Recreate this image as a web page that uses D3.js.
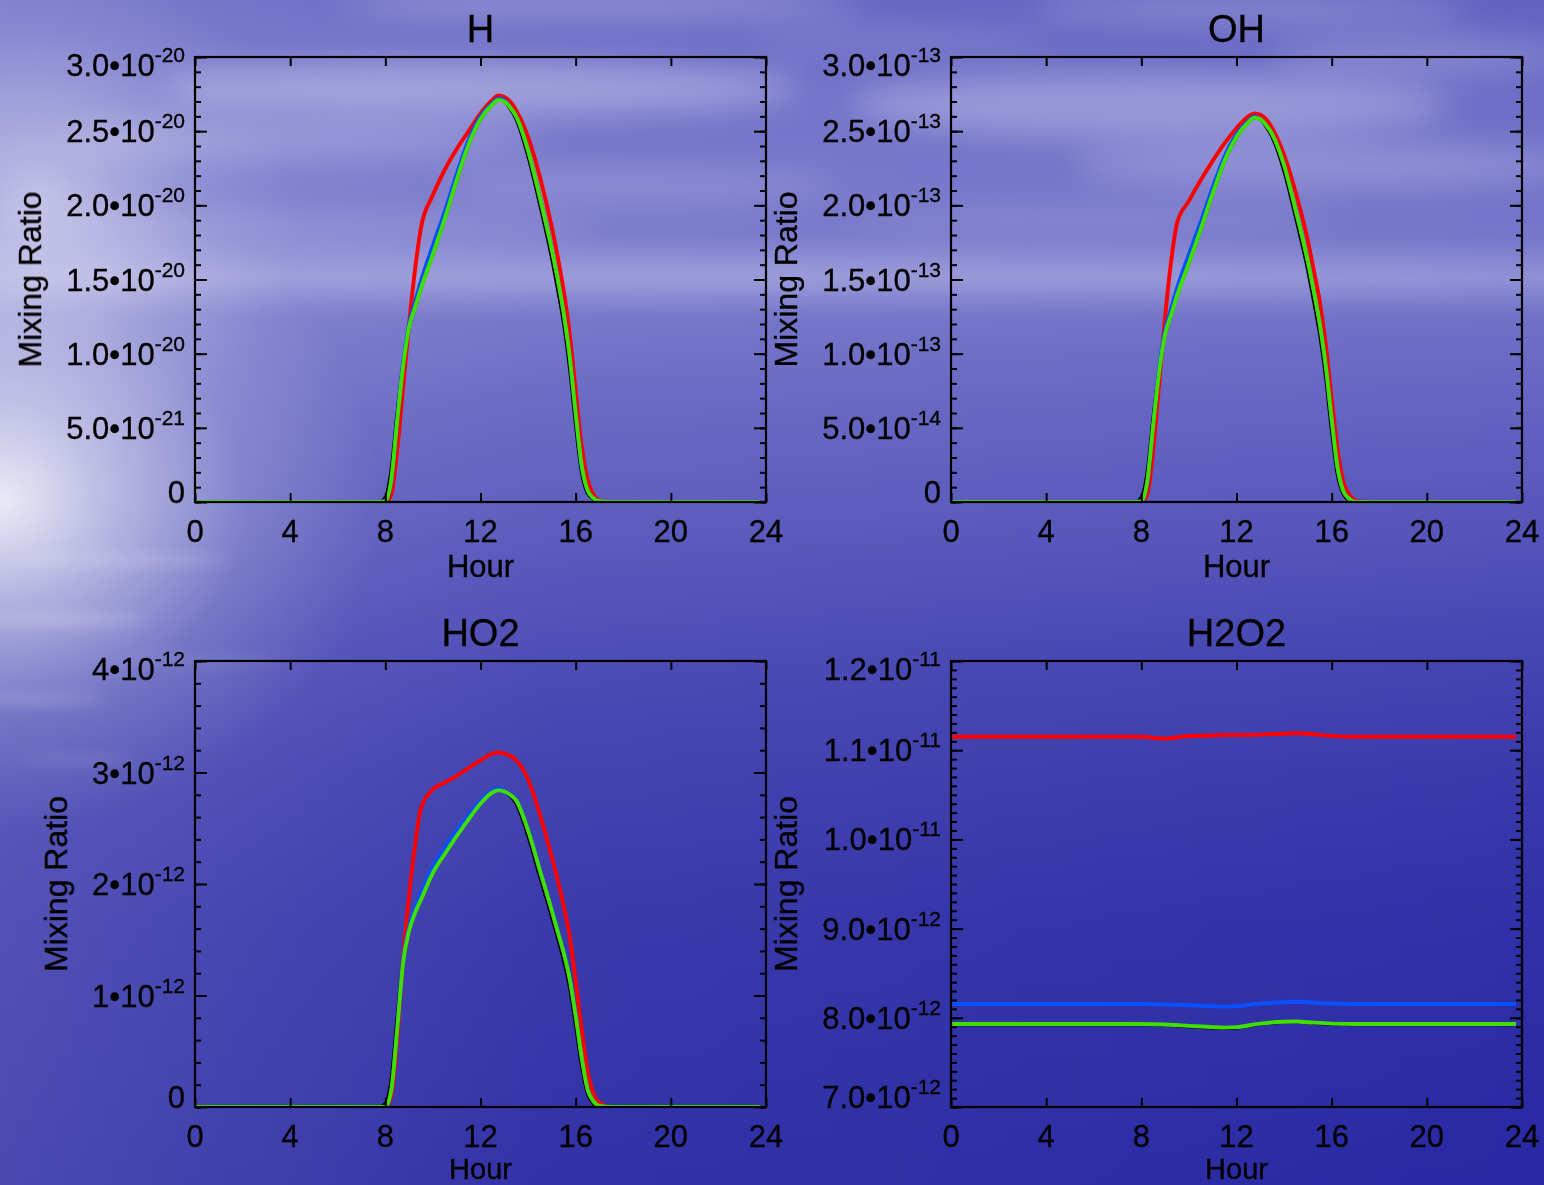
<!DOCTYPE html>
<html><head><meta charset="utf-8">
<script src="https://cdn.jsdelivr.net/npm/d3@7"></script>
<style>body{margin:0;background:#4a4ab6;} svg{display:block}</style>
</head><body>
<svg id="c" width="1544" height="1185"></svg>
<script>
// ---------- DATA ----------
const xTicks = [0, 4, 8, 12, 16, 20, 24];
const xTickLabels = ["0", "4", "8", "12", "16", "20", "24"];

// hour grid for H, OH, HO2
const hours = [0, 7.75, 8.0, 8.25, 8.5, 8.75, 9.0, 9.25, 9.5, 10.0, 10.5, 11.0, 11.5, 12.0, 12.5, 12.75, 13.0, 13.25, 13.5, 14.0, 14.5, 15.0, 15.25, 15.5, 15.75, 16.0, 16.25, 16.5, 16.75, 17.0, 17.5, 23.75];

// H (units of 1e-20)
const H_red   = [0, 0, 0, 0.05, 0.35, 0.78, 1.20, 1.57, 1.85, 2.07, 2.24, 2.38, 2.50, 2.62, 2.71, 2.74, 2.73, 2.70, 2.64, 2.46, 2.19, 1.85, 1.65, 1.42, 1.13, 0.75, 0.38, 0.15, 0.05, 0.01, 0, 0];
const H_blue  = [0, 0, 0.005, 0.14, 0.55, 0.94, 1.20, 1.35, 1.49, 1.73, 1.96, 2.21, 2.44, 2.60, 2.69, 2.72, 2.71, 2.66, 2.60, 2.37, 2.05, 1.70, 1.50, 1.27, 0.98, 0.60, 0.25, 0.08, 0.025, 0.005, 0, 0];
const H_black = [0, 0, 0.03, 0.22, 0.60, 0.93, 1.18, 1.31, 1.44, 1.67, 1.91, 2.17, 2.41, 2.58, 2.68, 2.71, 2.70, 2.65, 2.58, 2.33, 2.00, 1.64, 1.43, 1.20, 0.90, 0.52, 0.20, 0.06, 0.02, 0, 0, 0];
const H_green = [0, 0, 0.005, 0.15, 0.55, 0.92, 1.18, 1.31, 1.44, 1.67, 1.91, 2.17, 2.41, 2.58, 2.68, 2.71, 2.70, 2.66, 2.60, 2.37, 2.05, 1.70, 1.50, 1.27, 0.98, 0.60, 0.25, 0.08, 0.025, 0.005, 0, 0];

// OH (units of 1e-13)
const OH_red   = [0, 0, 0, 0.05, 0.35, 0.80, 1.25, 1.62, 1.88, 2.03, 2.17, 2.30, 2.42, 2.52, 2.60, 2.62, 2.61, 2.58, 2.52, 2.34, 2.08, 1.76, 1.56, 1.35, 1.06, 0.70, 0.35, 0.13, 0.05, 0.01, 0, 0];
const OH_blue  = [0, 0, 0.005, 0.13, 0.52, 0.90, 1.16, 1.30, 1.44, 1.67, 1.89, 2.12, 2.33, 2.48, 2.57, 2.60, 2.58, 2.54, 2.48, 2.27, 1.96, 1.62, 1.42, 1.20, 0.92, 0.56, 0.23, 0.07, 0.02, 0, 0, 0];
const OH_black = [0, 0, 0.03, 0.20, 0.57, 0.89, 1.13, 1.26, 1.39, 1.61, 1.84, 2.08, 2.30, 2.46, 2.56, 2.59, 2.58, 2.53, 2.46, 2.23, 1.91, 1.56, 1.35, 1.13, 0.84, 0.48, 0.18, 0.05, 0.01, 0, 0, 0];
const OH_green = [0, 0, 0.005, 0.14, 0.52, 0.88, 1.13, 1.26, 1.39, 1.61, 1.84, 2.08, 2.30, 2.46, 2.56, 2.59, 2.58, 2.54, 2.48, 2.27, 1.96, 1.62, 1.42, 1.20, 0.92, 0.56, 0.23, 0.07, 0.02, 0, 0, 0];

// HO2 (units of 1e-12)
const HO2_red   = [0, 0, 0, 0.10, 0.60, 1.35, 1.90, 2.35, 2.68, 2.85, 2.91, 2.97, 3.04, 3.11, 3.17, 3.18, 3.17, 3.15, 3.11, 2.94, 2.62, 2.24, 2.03, 1.80, 1.53, 1.13, 0.70, 0.32, 0.12, 0.04, 0, 0];
const HO2_blue  = [0, 0, 0, 0.15, 0.70, 1.32, 1.62, 1.79, 1.92, 2.16, 2.33, 2.48, 2.62, 2.75, 2.84, 2.86, 2.84, 2.80, 2.75, 2.48, 2.12, 1.76, 1.57, 1.38, 1.15, 0.82, 0.45, 0.16, 0.05, 0.01, 0, 0];
const HO2_black = [0, 0, 0.03, 0.25, 0.80, 1.32, 1.58, 1.74, 1.86, 2.10, 2.27, 2.43, 2.58, 2.72, 2.82, 2.84, 2.83, 2.79, 2.72, 2.43, 2.06, 1.70, 1.51, 1.31, 1.07, 0.73, 0.37, 0.12, 0.03, 0, 0, 0];
const HO2_green = [0, 0, 0, 0.15, 0.70, 1.30, 1.58, 1.74, 1.86, 2.10, 2.27, 2.43, 2.58, 2.72, 2.82, 2.84, 2.83, 2.80, 2.75, 2.48, 2.12, 1.76, 1.57, 1.38, 1.15, 0.82, 0.45, 0.16, 0.05, 0.01, 0, 0];

// H2O2 (units of 1e-12)
const hours2 = [0, 4, 8, 9, 10, 11, 11.5, 12, 13, 14, 14.5, 15, 16, 17, 20, 23.75];
const H2O2_red   = [11.15, 11.15, 11.15, 11.13, 11.16, 11.165, 11.17, 11.17, 11.175, 11.185, 11.19, 11.185, 11.16, 11.15, 11.15, 11.15];
const H2O2_blue  = [8.155, 8.155, 8.155, 8.15, 8.14, 8.13, 8.125, 8.13, 8.16, 8.175, 8.18, 8.175, 8.16, 8.155, 8.155, 8.155];
const H2O2_black = [7.925, 7.925, 7.925, 7.918, 7.902, 7.886, 7.882, 7.888, 7.93, 7.952, 7.955, 7.946, 7.93, 7.925, 7.925, 7.925];
const H2O2_green = [7.93, 7.93, 7.93, 7.925, 7.91, 7.895, 7.89, 7.895, 7.935, 7.955, 7.958, 7.95, 7.935, 7.93, 7.93, 7.93];

// y tick values and labels ([mantissa, exponent])
const H_yTicks = [0, 0.5, 1.0, 1.5, 2.0, 2.5, 3.0];
const H_yLabels = [["0",""],["5.0•10","-21"],["1.0•10","-20"],["1.5•10","-20"],["2.0•10","-20"],["2.5•10","-20"],["3.0•10","-20"]];
const OH_yTicks = [0, 0.5, 1.0, 1.5, 2.0, 2.5, 3.0];
const OH_yLabels = [["0",""],["5.0•10","-14"],["1.0•10","-13"],["1.5•10","-13"],["2.0•10","-13"],["2.5•10","-13"],["3.0•10","-13"]];
const HO2_yTicks = [0, 1, 2, 3, 4];
const HO2_yLabels = [["0",""],["1•10","-12"],["2•10","-12"],["3•10","-12"],["4•10","-12"]];
const H2O2_yTicks = [7, 8, 9, 10, 11, 12];
const H2O2_yLabels = [["7.0•10","-12"],["8.0•10","-12"],["9.0•10","-12"],["1.0•10","-11"],["1.1•10","-11"],["1.2•10","-11"]];

const titles = ["H", "OH", "HO2", "H2O2"];
const seriesColors = {red: "#ff0000", black: "#000000", blue: "#0a50ff", green: "#3fe000"};

// ---------- BACKGROUND ----------
const svg = d3.select("#c");
const W = 1544, Hh = 1185;
const defs = svg.append("defs");
const bg = defs.append("linearGradient").attr("id","bg").attr("x1",0).attr("y1",0).attr("x2",0).attr("y2",1);
[[0,"#6262c2"],[0.08,"#6e6ec8"],[0.2,"#7676cb"],[0.235,"#8686d2"],[0.27,"#7070c8"],[0.35,"#6262c1"],[0.45,"#5454ba"],[0.55,"#4545b3"],[0.65,"#3a3aad"],[0.78,"#3030a8"],[1,"#2828a3"]]
  .forEach(([o,c]) => bg.append("stop").attr("offset",o).attr("stop-color",c));
const hz = defs.append("linearGradient").attr("id","hz").attr("x1",0).attr("y1",0).attr("x2",1).attr("y2",0);
[[0,0.16],[0.35,0.05],[1,0]].forEach(([o,a]) => hz.append("stop").attr("offset",o).attr("stop-color","#ffffff").attr("stop-opacity",a));
const glow = defs.append("radialGradient").attr("id","glow");
[[0,0.85],[0.3,0.5],[0.65,0.15],[1,0]].forEach(([o,a]) => glow.append("stop").attr("offset",o).attr("stop-color","#ffffff").attr("stop-opacity",a));
defs.append("filter").attr("id","blur").attr("x","-50%").attr("y","-50%").attr("width","200%").attr("height","200%")
  .append("feGaussianBlur").attr("stdDeviation",16);
defs.append("filter").attr("id","blur2").attr("x","-50%").attr("y","-50%").attr("width","200%").attr("height","200%")
  .append("feGaussianBlur").attr("stdDeviation",7);

svg.append("rect").attr("width",W).attr("height",Hh).attr("fill","url(#bg)");
svg.append("rect").attr("width",W).attr("height",Hh).attr("fill","url(#hz)");
svg.append("ellipse").attr("cx",0).attr("cy",500).attr("rx",380).attr("ry",330).attr("fill","url(#glow)");
svg.append("ellipse").attr("cx",40).attr("cy",200).attr("rx",260).attr("ry",260).attr("fill","url(#glow)").attr("opacity",0.55);

const clouds = [
  [480, 88, 320, 26, 0.32], [300, 140, 240, 18, 0.22], [640, 185, 200, 14, 0.18],
  [1150, 105, 300, 32, 0.28], [1320, 165, 250, 22, 0.22], [1420, 55, 150, 18, 0.2],
  [600, 4, 260, 14, 0.28], [1250, 8, 220, 16, 0.22], [900, 40, 150, 12, 0.12],
  [780, 275, 900, 14, 0.22], [300, 230, 300, 14, 0.15], [1100, 220, 250, 12, 0.12]
];
svg.append("g").attr("filter","url(#blur)").selectAll("ellipse").data(clouds).join("ellipse")
  .attr("cx",d=>d[0]).attr("cy",d=>d[1]).attr("rx",d=>d[2]).attr("ry",d=>d[3])
  .attr("fill","#ffffff").attr("opacity",d=>d[4]);
const ripples = [[60,620,90,5,0.25],[40,700,70,4,0.22],[120,560,110,5,0.2],[80,760,60,4,0.15],[200,660,90,4,0.12]];
svg.append("g").attr("filter","url(#blur2)").selectAll("ellipse").data(ripples).join("ellipse")
  .attr("cx",d=>d[0]).attr("cy",d=>d[1]).attr("rx",d=>d[2]).attr("ry",d=>d[3])
  .attr("fill","#ffffff").attr("opacity",d=>d[4]);

// ---------- PANELS ----------
const FONT = "'Liberation Sans', Arial, Helvetica, sans-serif";
const panels = [
  {title: titles[0], left:195, right:766, top:57, bottom:502, yDomain:[0,3], yTicks:H_yTicks, yLabels:H_yLabels, minor:0.1,
   t:hours, series:{red:H_red, black:H_black, blue:H_blue, green:H_green}, ytx:41, hourY:577},
  {title: titles[1], left:951, right:1522, top:57, bottom:502, yDomain:[0,3], yTicks:OH_yTicks, yLabels:OH_yLabels, minor:0.1,
   t:hours, series:{red:OH_red, black:OH_black, blue:OH_blue, green:OH_green}, ytx:797, hourY:577},
  {title: titles[2], left:195, right:766, top:661, bottom:1107, yDomain:[0,4], yTicks:HO2_yTicks, yLabels:HO2_yLabels, minor:0.2,
   t:hours, series:{red:HO2_red, black:HO2_black, blue:HO2_blue, green:HO2_green}, ytx:67, hourY:1178.5},
  {title: titles[3], left:951, right:1522, top:661, bottom:1107, yDomain:[7,12], yTicks:H2O2_yTicks, yLabels:H2O2_yLabels, minor:0.1,
   t:hours2, series:{red:H2O2_red, black:H2O2_black, blue:H2O2_blue, green:H2O2_green}, ytx:797, hourY:1178.5}
];

function txt(sel){
  return sel.attr("font-family",FONT).attr("fill","#000").attr("stroke","#000").attr("stroke-width",0.35);
}

panels.forEach((p, idx) => {
  const g = svg.append("g");
  const x = d3.scaleLinear().domain([0,24]).range([p.left,p.right]);
  const y = d3.scaleLinear().domain(p.yDomain).range([p.bottom,p.top]);
  const cid = "clip"+idx;
  defs.append("clipPath").attr("id",cid).append("rect")
    .attr("x",p.left).attr("y",p.top-3).attr("width",p.right-p.left).attr("height",p.bottom-p.top+4);

  const line = d3.line().x((d,i)=>x(p.t[i])).y(d=>y(d)).curve(d3.curveMonotoneX);
  const lg = g.append("g").attr("clip-path",`url(#${cid})`);
  ["red","black","blue","green"].forEach(k => {
    lg.append("path").attr("d", line(p.series[k])).attr("fill","none")
      .attr("stroke", seriesColors[k]).attr("stroke-width", k==="black"?3.4:3.9)
      .attr("stroke-linejoin","round");
  });

  const minorTicks = d3.range(p.yDomain[0], p.yDomain[1]+1e-9, p.minor).map(v=>+v.toFixed(6));
  const ax = (a, tr) => g.append("g").attr("transform",tr).call(a)
      .call(s=>s.select(".domain").remove())
      .call(s=>s.selectAll("line").attr("stroke","#000").attr("stroke-width",2))
      .call(s=>s.selectAll("text").remove());
  ax(d3.axisBottom(x).tickValues(xTicks).tickSize(-9), `translate(0,${p.bottom})`);
  ax(d3.axisTop(x).tickValues(xTicks).tickSize(-9), `translate(0,${p.top})`);
  ax(d3.axisLeft(y).tickValues(minorTicks).tickSize(-6), `translate(${p.left},0)`);
  ax(d3.axisRight(y).tickValues(minorTicks).tickSize(-6), `translate(${p.right},0)`);
  ax(d3.axisLeft(y).tickValues(p.yTicks).tickSize(-12), `translate(${p.left},0)`);
  ax(d3.axisRight(y).tickValues(p.yTicks).tickSize(-12), `translate(${p.right},0)`);

  g.append("rect").attr("x",p.left).attr("y",p.top).attr("width",p.right-p.left).attr("height",p.bottom-p.top)
    .attr("fill","none").attr("stroke","#000").attr("stroke-width",2.2);

  // x tick labels
  g.selectAll(".xl").data(xTicks).join("text")
    .attr("x", d=>x(d)).attr("y", p.bottom+40)
    .attr("text-anchor","middle").attr("font-size",31)
    .call(txt)
    .text((d,i)=>xTickLabels[i]);

  // y tick labels
  p.yTicks.forEach((v,i) => {
    const cy = Math.max(p.top+8, Math.min(p.bottom-10, y(v)));
    const t = g.append("text").attr("x", p.left-10).attr("y", cy+11)
      .attr("text-anchor","end").attr("font-size",31).call(txt);
    t.append("tspan").text(p.yLabels[i][0]);
    if (p.yLabels[i][1]) t.append("tspan").attr("font-size",21).attr("dy",-14).text(p.yLabels[i][1]);
  });

  // titles
  g.append("text").attr("x",(p.left+p.right)/2).attr("y",p.top-15)
    .attr("text-anchor","middle").attr("font-size",38).call(txt).text(p.title);
  g.append("text").attr("x",(p.left+p.right)/2).attr("y",p.hourY)
    .attr("text-anchor","middle").attr("font-size",idx>1?29:31).call(txt).text("Hour");
  g.append("text").attr("transform",`translate(${p.ytx},${(p.top+p.bottom)/2}) rotate(-90)`)
    .attr("text-anchor","middle").attr("font-size",32).call(txt).text("Mixing Ratio");
});
</script>
</body></html>
